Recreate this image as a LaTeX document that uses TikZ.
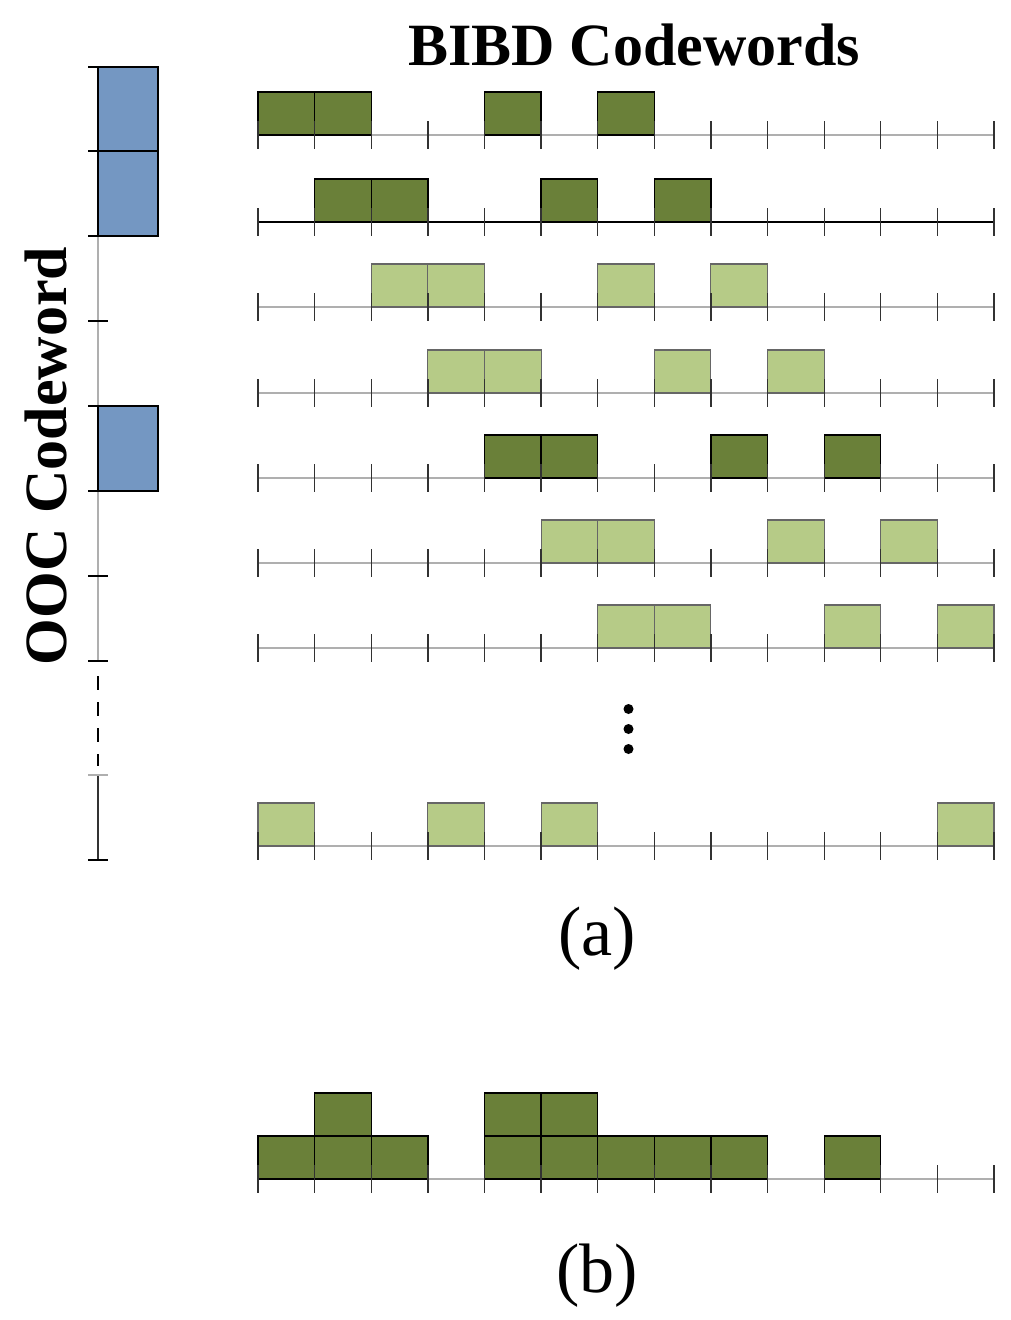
\documentclass[tikz,border=0pt]{standalone}
\usepackage{fontspec}
\setmainfont{Liberation Serif}
\definecolor{blueblk}{RGB}{116,151,194}
\definecolor{darkgrn}{RGB}{106,128,57}
\definecolor{lightgrn}{RGB}{182,203,135}
\definecolor{axisgray}{RGB}{175,175,175}
\definecolor{tickgray}{RGB}{50,50,50}
\newcommand{\cw}{56.615}
% #1 baseline y, #2 baseline colour, #3 block style, #4 cells
\newcommand{\coderow}[4]{%
  \draw[#2, line width=1.2pt] (258,#1) -- (994,#1);
  \foreach \c in {#4} \draw[#3] (258+\c*\cw,#1-43) rectangle ++(\cw,43);
  \foreach \i in {0,...,13} \draw[tickgray, line width=1.3pt] (258+\i*\cw,#1-14) -- (258+\i*\cw,#1+14);
}
\begin{document}
\begin{tikzpicture}[x=1pt,y=-1pt,
  darkblk/.style={fill=darkgrn, draw=black, line width=1.3pt},
  lightblk/.style={fill=lightgrn, draw=black!60, line width=1.1pt},
  blueblock/.style={fill=blueblk, draw=black, line width=1.3pt},
  lefttick/.style={black, line width=1.3pt},
  titletext/.style={font=\fontsize{60}{60}\selectfont\bfseries, inner sep=0pt},
  captext/.style={font=\fontsize{70}{70}\selectfont, inner sep=0pt},
  dot/.style={circle, fill=black, inner sep=0pt, minimum size=10pt}]
\useasboundingbox (0,0) rectangle (1011,1320);

% titles
\node[titletext, anchor=base] (title) at (634,65) {BIBD Codewords};
\node[titletext, anchor=base, rotate=90] (ooc) at (66,456) {OOC Codeword};

% left axis
\draw[axisgray, line width=1.3pt] (98,67) -- (98,661);
\draw[black, line width=1.6pt, dash pattern=on 14pt off 12pt] (98,676) -- (98,766);
\draw[tickgray, line width=1.1pt] (98,775) -- (98,860);
\draw[blueblock] (98,67) rectangle (158,151);
\draw[blueblock] (98,151) rectangle (158,236);
\draw[blueblock] (98,406) rectangle (158,491);
\foreach \t in {67,151,236,321,406,491,576,661,860} \draw[lefttick] (88,\t) -- (108,\t);
\draw[axisgray, line width=1.3pt] (88,775) -- (108,775);

% rows (a)
\coderow{135}{axisgray}{darkblk}{0,1,4,6}
\coderow{222}{black}{darkblk}{1,2,5,7}
\coderow{307}{axisgray}{lightblk}{2,3,6,8}
\coderow{393}{axisgray}{lightblk}{3,4,7,9}
\coderow{478}{axisgray}{darkblk}{4,5,8,10}
\coderow{563}{axisgray}{lightblk}{5,6,9,11}
\coderow{648}{axisgray}{lightblk}{6,7,10,12}
\coderow{846}{axisgray}{lightblk}{0,3,5,12}

% dots
\node[dot] (d1) at (628.5,709) {};
\node[dot] (d2) at (628.5,729) {};
\node[dot] (d3) at (628.5,749) {};

\node[captext, anchor=base] (capa) at (597,955) {(a)};

% (b)
\draw[darkblk] (258+1*\cw,1093) rectangle ++(\cw,43);
\draw[darkblk] (258+4*\cw,1093) rectangle ++(\cw,43);
\draw[darkblk] (258+5*\cw,1093) rectangle ++(\cw,43);
\coderow{1179}{axisgray}{darkblk}{0,1,2,4,5,6,7,8,10}
\node[captext, anchor=base] (capb) at (597,1292) {(b)};
\end{tikzpicture}
\end{document}
